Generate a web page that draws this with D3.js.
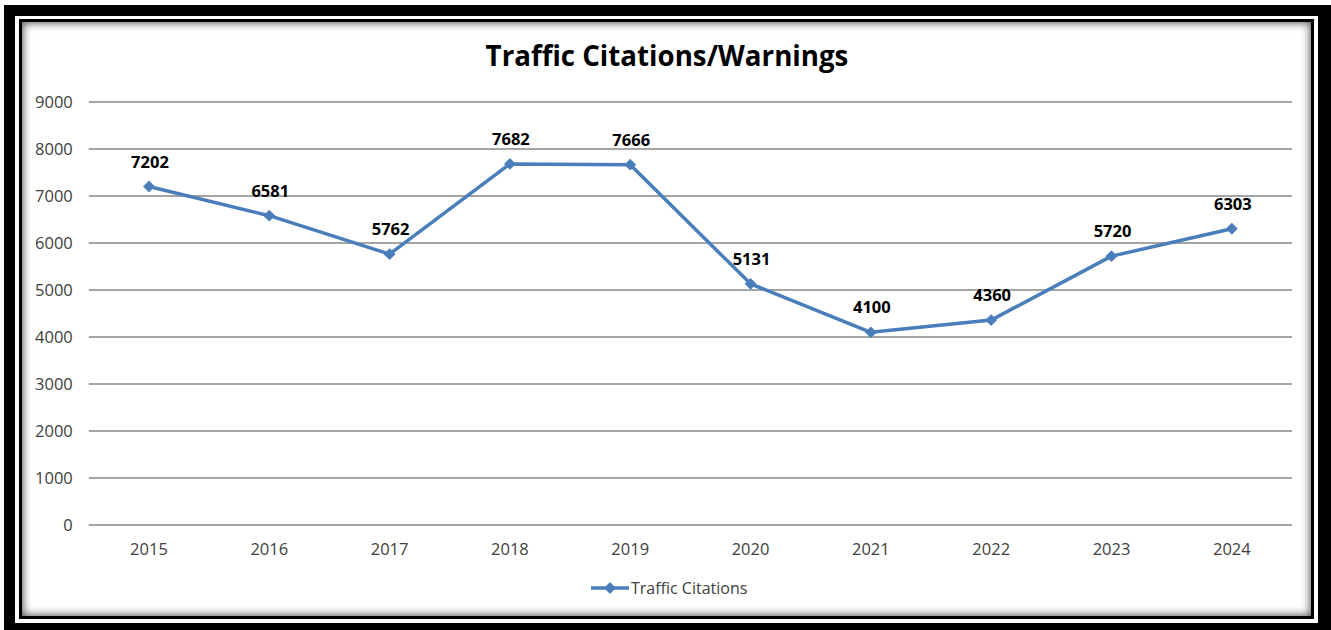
<!DOCTYPE html>
<html><head><meta charset="utf-8">
<script src="https://cdn.jsdelivr.net/npm/d3@7"></script>
<style>html,body{margin:0;padding:0;background:#fff;}svg{display:block;}</style>
</head><body>
<script>
const categories = ["2015","2016","2017","2018","2019","2020","2021","2022","2023","2024"];
const citations = [7202,6581,5762,7682,7666,5131,4100,4360,5720,6303];
const yTicks = [0,1000,2000,3000,4000,5000,6000,7000,8000,9000];
const seriesName = "Traffic Citations";
const titleText = "Traffic Citations/Warnings";

const W = 1331, H = 630;
const font = "'Open Sans', sans-serif";
const svg = d3.select("body").append("svg").attr("width", W).attr("height", H);

const defs = svg.append("defs");
const f = defs.append("filter").attr("id","inner").attr("x","-5%").attr("y","-5%").attr("width","110%").attr("height","110%");
f.append("feGaussianBlur").attr("stdDeviation", 4);

// frame
svg.append("rect").attr("width",W).attr("height",H).attr("fill","#fff");
svg.append("rect").attr("x",4).attr("y",5).attr("width",W-4).attr("height",H-5).attr("fill","#000");
svg.append("rect").attr("x",15).attr("y",16).attr("width",1318-15).attr("height",623-16).attr("fill","#fff");
svg.append("rect").attr("x",19).attr("y",19).attr("width",1314-19).attr("height",619-19).attr("fill","#000");
const clip = defs.append("clipPath").attr("id","innerclip");
clip.append("rect").attr("x",22).attr("y",22).attr("width",1311-22).attr("height",616-22);
svg.append("rect").attr("x",22).attr("y",22).attr("width",1311-22).attr("height",616-22).attr("fill","#fff");
svg.append("g").attr("clip-path","url(#innerclip)")
  .append("rect").attr("x",18).attr("y",18).attr("width",1315-18).attr("height",620-18)
  .attr("fill","none").attr("stroke","#555").attr("stroke-width",10).attr("filter","url(#inner)");

// title
svg.append("text").attr("x",667).attr("y",66).attr("text-anchor","middle")
  .attr("font-family",font).attr("font-weight","bold").attr("font-size",27.7).attr("fill","#000").text(titleText);

const x = d3.scaleBand().domain(categories).range([88.8,1292]);
const y = d3.scaleLinear().domain([0,9000]).range([525,102]);

// gridlines
svg.append("g").selectAll("line").data(yTicks).join("line")
  .attr("x1",88.8).attr("x2",1292).attr("y1",d=>y(d)).attr("y2",d=>y(d))
  .attr("stroke","#878787").attr("stroke-width",1.5);

const yAxis = svg.append("g").attr("transform","translate(88.8,0)")
  .call(d3.axisLeft(y).tickValues(yTicks).tickFormat(d3.format("d")).tickSize(0).tickPadding(16));
yAxis.select(".domain").remove();
yAxis.selectAll("text").attr("font-family",font).attr("font-size",16.5).attr("fill","#404040");

const xAxis = svg.append("g").attr("transform","translate(0,525)")
  .call(d3.axisBottom(x).tickSize(0).tickPadding(18));
xAxis.select(".domain").remove();
xAxis.selectAll("text").attr("font-family",font).attr("font-size",16.5).attr("fill","#404040");

const cx = d => x(d) + x.bandwidth()/2;
const color = "#4A7EBB";
const line = d3.line().x((d,i)=>cx(categories[i])).y(d=>y(d));
svg.append("path").datum(citations).attr("d",line).attr("fill","none")
  .attr("stroke",color).attr("stroke-width",3.5).attr("stroke-linejoin","round");

const diamond = d3.symbol().type(d3.symbolSquare).size(70);
svg.append("g").selectAll("path").data(citations).join("path")
  .attr("d",diamond).attr("transform",(d,i)=>`translate(${cx(categories[i])},${y(d)}) rotate(45)`).attr("fill",color);

svg.append("g").selectAll("text").data(citations).join("text")
  .attr("x",(d,i)=>cx(categories[i])+1).attr("y",(d)=>y(d)-19).attr("text-anchor","middle")
  .attr("font-family",font).attr("font-weight","bold").attr("font-size",16.5).attr("fill","#000").text(d=>d);

// legend
const lg = svg.append("g");
lg.append("line").attr("x1",591).attr("x2",629).attr("y1",588).attr("y2",588).attr("stroke",color).attr("stroke-width",3.5);
lg.append("path").attr("d",diamond).attr("transform","translate(610,588) rotate(45)").attr("fill",color);
lg.append("text").attr("x",631).attr("y",594).attr("font-family",font).attr("font-size",16).attr("fill","#404040").text(seriesName);
</script>
</body></html>
